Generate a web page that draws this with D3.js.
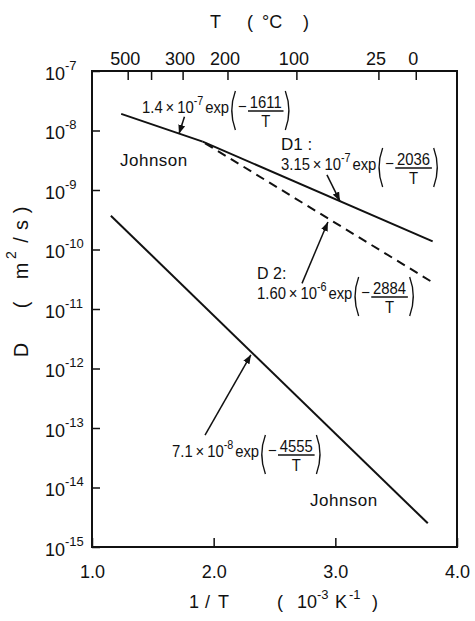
<!DOCTYPE html>
<html>
<head>
<meta charset="utf-8">
<script src="https://cdn.jsdelivr.net/npm/d3@7"></script>
<style>
  body { margin: 0; background: #fff; }
  text { font-family: "Liberation Sans", Arial, sans-serif; fill: #111; }
</style>
</head>
<body>
<svg id="chart" width="475" height="621"></svg>
<script>
// values (x = 1000/T in 1e-3 K^-1, D in m^2/s)
const johnsonHighX = [1.24, 1.91];
const johnsonHighD = [1.9e-8, 6.5e-9];
const d1X = [1.91, 3.80];
const d1D = [6.5e-9, 1.37e-10];
const d2X = [1.93, 3.80];
const d2D = [6.1e-9, 2.8e-11];
const johnsonLowX = [1.155, 3.76];
const johnsonLowD = [3.7e-10, 2.5e-15];

const bottomTicks = [1.0, 2.0, 3.0, 4.0];
const bottomLabels = ["1.0", "2.0", "3.0", "4.0"];
const leftExponents = [-7, -8, -9, -10, -11, -12, -13, -14, -15];
const topTempsC = [500, 400, 300, 200, 100, 25, 0];
const topLabels = ["500", "", "300", "200", "100", "25", "0"];

// arrows: [x, D] of tail and tip
const arrowTails = [[1.76, 1.7e-8], [2.931, 1.8e-9], [2.726, 2.7e-11], [1.929, 7.6e-14]];
const arrowTips = [[1.715, 8.8e-9], [3.038, 6.5e-10], [2.939, 2.9e-10], [2.306, 1.7e-12]];

const svg = d3.select("#chart");
const plotLeft = 92, plotRight = 457, plotTop = 71, plotBottom = 547;

const x = d3.scaleLinear().domain([1, 4]).range([plotLeft, plotRight]);
const y = d3.scaleLog().domain([1e-15, 1e-7]).range([plotBottom, plotTop]);

svg.append("defs").append("marker")
  .attr("id", "head")
  .attr("markerUnits", "userSpaceOnUse")
  .attr("markerWidth", 10).attr("markerHeight", 8)
  .attr("refX", 9).attr("refY", 4)
  .attr("orient", "auto")
  .append("path")
  .attr("d", "M0,0.5 L9,4 L0,7.5 Z")
  .attr("fill", "#111");

// frame
svg.append("rect")
  .attr("x", plotLeft).attr("y", plotTop)
  .attr("width", plotRight - plotLeft).attr("height", plotBottom - plotTop)
  .attr("fill", "none").attr("stroke", "#111").attr("stroke-width", 2);

// bottom axis
let gx = svg.append("g")
  .attr("transform", "translate(0," + plotBottom + ")")
  .call(d3.axisBottom(x).tickValues(bottomTicks)
    .tickFormat((d, i) => bottomLabels[i])
    .tickSize(-9).tickSizeOuter(0).tickPadding(18));
gx.select(".domain").remove();
gx.selectAll("line").attr("stroke", "#111").attr("stroke-width", 1.5);
gx.selectAll("text").attr("font-size", 18).attr("fill", "#111")
  .attr("font-family", "Liberation Sans, Arial, sans-serif");

// top axis (T in deg C)
let gt = svg.append("g")
  .attr("transform", "translate(0," + plotTop + ")")
  .call(d3.axisTop(x).tickValues(topTempsC.map(c => 1000 / (c + 273.15)))
    .tickFormat((d, i) => topLabels[i])
    .tickSize(-9).tickSizeOuter(0).tickPadding(6));
gt.select(".domain").remove();
gt.selectAll("line").attr("stroke", "#111").attr("stroke-width", 1.5);
gt.selectAll("text").attr("font-size", 18).attr("fill", "#111").attr("dx", -3)
  .attr("font-family", "Liberation Sans, Arial, sans-serif");

// left axis
let gy = svg.append("g")
  .attr("transform", "translate(" + plotLeft + ",0)")
  .call(d3.axisLeft(y).tickValues(leftExponents.map(e => Math.pow(10, e)))
    .tickFormat("").tickSize(-8).tickSizeOuter(0));
gy.select(".domain").remove();
gy.selectAll("line").attr("stroke", "#111").attr("stroke-width", 1.5);
gy.selectAll(".tick").each(function (d, i) {
  let t = d3.select(this).select("text")
    .attr("x", -47).attr("y", 8).attr("dy", null)
    .attr("text-anchor", "start").attr("font-size", 18).attr("fill", "#111")
    .attr("font-family", "Liberation Sans, Arial, sans-serif");
  t.text(null);
  t.append("tspan").text("10");
  t.append("tspan").attr("font-size", 13).attr("dy", -10).text(String(leftExponents[i]));
});

// lines
const line = d3.line().x(d => x(d[0])).y(d => y(d[1]));
function series(xs, ds) { return xs.map((v, i) => [v, ds[i]]); }

svg.append("path").datum(series(johnsonHighX, johnsonHighD))
  .attr("d", line).attr("fill", "none").attr("stroke", "#111").attr("stroke-width", 2);
svg.append("path").datum(series(d1X, d1D))
  .attr("d", line).attr("fill", "none").attr("stroke", "#111").attr("stroke-width", 2);
svg.append("path").datum(series(d2X, d2D))
  .attr("d", line).attr("fill", "none").attr("stroke", "#111").attr("stroke-width", 2)
  .attr("stroke-dasharray", "9,6");
svg.append("path").datum(series(johnsonLowX, johnsonLowD))
  .attr("d", line).attr("fill", "none").attr("stroke", "#111").attr("stroke-width", 2);

// arrows
arrowTails.forEach((t, i) => {
  svg.append("line")
    .attr("x1", x(t[0])).attr("y1", y(t[1]))
    .attr("x2", x(arrowTips[i][0])).attr("y2", y(arrowTips[i][1]))
    .attr("stroke", "#111").attr("stroke-width", 1.5)
    .attr("marker-end", "url(#head)");
});

// formula annotation: coef x 10^pow exp( - num / T ), drawn a bit condensed
function paren(g, px, y1, y2, dir) {
  let mid = (y1 + y2) / 2;
  let d = dir > 0
    ? "M" + (px + 5) + "," + y1 + " Q" + (px - 3) + "," + mid + " " + (px + 5) + "," + y2
    : "M" + px + "," + y1 + " Q" + (px + 8) + "," + mid + " " + px + "," + y2;
  g.append("path").attr("d", d).attr("fill", "none").attr("stroke", "#111").attr("stroke-width", 1.5);
}

function formula(x0, base, coef, pow, num) {
  let g = svg.append("g").attr("transform", "translate(" + x0 + "," + base + ") scale(0.9,1)");
  let t = g.append("text").attr("x", 0).attr("y", 0).attr("font-size", 16.5);
  t.append("tspan").text(coef + "\u2009\u00d7\u200910");
  t.append("tspan").attr("font-size", 12).attr("dy", -8).text(pow);
  t.append("tspan").attr("dy", 8).attr("dx", 2).text("exp");
  let px = t.node().getComputedTextLength() + 4;
  paren(g, px, -22, 17, 1);
  px += 8;
  g.append("text").attr("x", px).attr("y", -1).attr("font-size", 16.5).text("\u2212");
  px += 13;
  let n = g.append("text").attr("x", px).attr("y", -5).attr("font-size", 16.5).text(num);
  let w = n.node().getComputedTextLength();
  g.append("line").attr("x1", px - 2).attr("x2", px + w + 2)
    .attr("y1", -2).attr("y2", -2).attr("stroke", "#111").attr("stroke-width", 1.3);
  g.append("text").attr("x", px + w / 2).attr("y", 14).attr("font-size", 16.5)
    .attr("text-anchor", "middle").text("T");
  paren(g, px + w + 4, -22, 17, -1);
}

formula(142, 113, "1.4", "-7", "1611");
formula(281, 170, "3.15", "-7", "2036");
formula(257, 299, "1.60", "-6", "2884");
formula(172, 457, "7.1", "-8", "4555");

svg.append("text").attr("x", 281).attr("y", 150).attr("font-size", 17).text("D1 :");
svg.append("text").attr("x", 257).attr("y", 279).attr("font-size", 16).text("D 2:");
svg.append("text").attr("x", 120).attr("y", 166).attr("font-size", 17)
  .attr("letter-spacing", 0.5).text("Johnson");
svg.append("text").attr("x", 310).attr("y", 506).attr("font-size", 17)
  .attr("letter-spacing", 0.5).text("Johnson");

// axis titles
function glyph(s, gx0, gy0, size) {
  return svg.append("text").attr("x", gx0).attr("y", gy0).attr("font-size", size || 18).text(s);
}
glyph("T", 210, 28);
glyph("(", 247, 28);
glyph("\u00b0C", 262, 28);
glyph(")", 303, 28);

glyph("1", 189, 608);
glyph("/", 205, 608);
glyph("T", 218, 608);
glyph("(", 277, 608);
glyph("10", 297, 608);
glyph("-3", 317, 599, 13);
glyph("K", 335, 608);
glyph("-1", 349, 599, 13);
glyph(")", 372, 608);

// rotated y title
const yTitle = [["D", 350], ["(", 305], ["m", 271], ["/", 240], ["s", 225], [")", 210]];
yTitle.forEach(p => {
  svg.append("text").attr("font-size", 20).attr("text-anchor", "middle")
    .attr("transform", "translate(28," + p[1] + ") rotate(-90)").text(p[0]);
});
svg.append("text").attr("font-size", 14).attr("text-anchor", "middle")
  .attr("transform", "translate(16,255) rotate(-90)").text("2");
</script>
</body>
</html>
